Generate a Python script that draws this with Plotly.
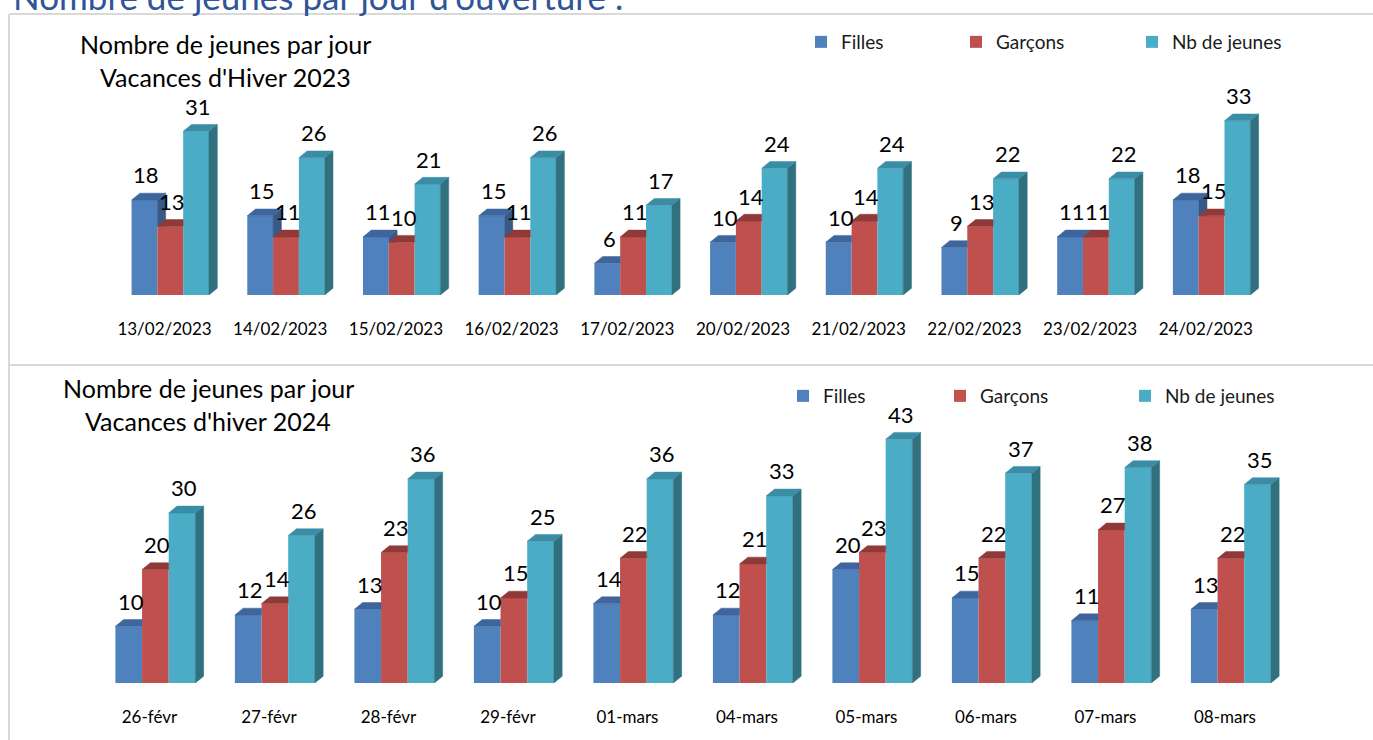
import plotly.graph_objects as go

# ---------------- data ----------------
cats_2023 = ["13/02/2023", "14/02/2023", "15/02/2023", "16/02/2023", "17/02/2023",
             "20/02/2023", "21/02/2023", "22/02/2023", "23/02/2023", "24/02/2023"]
filles_2023 = [18, 15, 11, 15, 6, 10, 10, 9, 11, 18]
garcons_2023 = [13, 11, 10, 11, 11, 14, 14, 13, 11, 15]
total_2023 = [31, 26, 21, 26, 17, 24, 24, 22, 22, 33]

cats_2024 = ["26-févr", "27-févr", "28-févr", "29-févr", "01-mars",
             "04-mars", "05-mars", "06-mars", "07-mars", "08-mars"]
filles_2024 = [10, 12, 13, 10, 14, 12, 20, 15, 11, 13]
garcons_2024 = [20, 14, 23, 15, 22, 21, 23, 22, 27, 22]
total_2024 = [30, 26, 36, 25, 36, 33, 43, 37, 38, 35]

series_names = ["Filles", "Garçons", "Nb de jeunes"]
title_2023 = ["Nombre de jeunes par jour", "Vacances d'Hiver 2023"]
title_2024 = ["Nombre de jeunes par jour", "Vacances d'hiver 2024"]
header = "Nombre de jeunes par jour d'ouverture :"

# ---------------- style ----------------
W_FIG, H_FIG = 1373, 740
FONT = "Lato"
front_col = ["#4F81BD", "#C0504D", "#4BACC6"]
top_col = ["#3E659C", "#8F3A38", "#3A8DA4"]
side_col = ["#365985", "#8A3432", "#31707F"]

BAR_W = 0.223      # bar width in category units
OFF = 0.05         # shift of bar group relative to the tick label
DEPTH_PX_X = 8.3
DEPTH_PX_Y = 6.8


def px2x(p):
    return p / W_FIG


def px2y(p):
    return 1 - p / H_FIG


panels = [
    dict(ax="x", ay="y", cats=cats_2023, vals=[filles_2023, garcons_2023, total_2023],
         label0=164.5, unit=115.7, base=295.0, scale=5.28, ytop=90.0,
         title=title_2023, title_x=225, title_y=[44, 77],
         legend_px=[(820, 42), (975, 42), (1151, 42)]),
    dict(ax="x2", ay="y2", cats=cats_2024, vals=[filles_2024, garcons_2024, total_2024],
         label0=149.4, unit=119.5, base=683.0, scale=5.67, ytop=420.0,
         title=title_2024, title_x=208, title_y=[388, 421],
         legend_px=[(802, 396), (959, 396), (1144, 396)]),
]

XL, XR = 20.0, 1360.0


def clip_above(poly, c):
    out = []
    n = len(poly)
    for j in range(n):
        p, q = poly[j], poly[(j + 1) % n]
        pin, qin = p[1] >= c, q[1] >= c
        if pin:
            out.append(p)
        if pin != qin:
            t = (c - p[1]) / (q[1] - p[1])
            out.append((p[0] + t * (q[0] - p[0]), c))
    return out


fig = go.Figure()
annotations = []
layout_axes = {}
legend_idx = 0

for pi, P in enumerate(panels):
    ax, ay = P["ax"], P["ay"]
    dx = DEPTH_PX_X / P["unit"]
    dy = DEPTH_PX_Y / P["scale"]
    n = len(P["cats"])
    centers = [[i + OFF + (k - 1) * BAR_W for i in range(n)] for k in range(3)]

    # front faces as bars
    for k in range(3):
        legend_idx += 1
        lname = "legend" if legend_idx == 1 else f"legend{legend_idx}"
        fig.add_trace(go.Bar(
            x=centers[k], y=P["vals"][k], width=BAR_W, name=series_names[k],
            marker=dict(color=front_col[k], line=dict(width=0)),
            xaxis=ax, yaxis=ay, legend=lname,
            hovertemplate="%{y}<extra>" + series_names[k] + "</extra>",
        ))
        lx, ly = P["legend_px"][k]
        layout_axes[lname] = dict(
            x=px2x(lx - 19), y=px2y(ly), xanchor="left", yanchor="middle",
            bgcolor="rgba(0,0,0,0)", borderwidth=0, itemwidth=30,
            font=dict(family=FONT, size=19, color="#1a1a1a"),
            itemclick=False, itemdoubleclick=False,
        )

    # side and top faces (3D look), computed from data
    for k in range(3):
        sx, sy, tx, ty = [], [], [], []
        for i in range(n):
            h = P["vals"][k][i]
            c = centers[k][i]
            xl, xr = c - BAR_W / 2, c + BAR_W / 2
            h_next = P["vals"][k + 1][i] if k < 2 else None
            side = [(xr, 0), (xr + dx, dy), (xr + dx, h + dy), (xr, h)]
            if h_next is not None:
                side = clip_above(side, h_next)
            if len(side) >= 3:
                for (a, b) in side:
                    sx.append(a); sy.append(b)
                sx.append(side[0][0]); sy.append(side[0][1])
                sx.append(None); sy.append(None)
            if h_next is not None and h_next > h + dy / 2:
                top = [(xl, h), (xr, h), (xr, h + dy), (xl + dx, h + dy)]
            else:
                top = [(xl, h), (xr, h), (xr + dx, h + dy), (xl + dx, h + dy)]
            for (a, b) in top:
                tx.append(a); ty.append(b)
            tx.append(top[0][0]); ty.append(top[0][1])
            tx.append(None); ty.append(None)
        fig.add_trace(go.Scatter(x=sx, y=sy, mode="lines", fill="toself",
                                 fillcolor=side_col[k], line=dict(width=0.5, color=side_col[k]),
                                 xaxis=ax, yaxis=ay, hoverinfo="skip", showlegend=False))
        fig.add_trace(go.Scatter(x=tx, y=ty, mode="lines", fill="toself",
                                 fillcolor=top_col[k], line=dict(width=0.5, color=top_col[k]),
                                 xaxis=ax, yaxis=ay, hoverinfo="skip", showlegend=False))

    # data labels
    for k in range(3):
        for i in range(n):
            annotations.append(dict(
                x=centers[k][i], y=P["vals"][k][i], xref=ax, yref=ay,
                text=str(P["vals"][k][i]), showarrow=False,
                yanchor="middle", yshift=25, xshift=2,
                font=dict(family=FONT, size=22, color="#000000"),
            ))

    # chart title (two lines)
    for line, ty_px in zip(P["title"], P["title_y"]):
        annotations.append(dict(
            x=px2x(P["title_x"]), y=px2y(ty_px), xref="paper", yref="paper",
            text=line, showarrow=False, xanchor="center", yanchor="middle",
            font=dict(family=FONT, size=25, color="#000000"),
        ))

    # axes
    xr0 = (XL - P["label0"]) / P["unit"]
    xr1 = (XR - P["label0"]) / P["unit"]
    xname = "xaxis" if ax == "x" else "xaxis2"
    yname = "yaxis" if ay == "y" else "yaxis2"
    layout_axes[xname] = dict(
        domain=[px2x(XL), px2x(XR)], range=[xr0, xr1],
        tickmode="array", tickvals=list(range(n)), ticktext=P["cats"],
        showgrid=False, zeroline=False, showline=False, ticks="",
        ticklabelstandoff=22, anchor=ay,
        tickfont=dict(family=FONT, size=17, color="#000000"), fixedrange=True,
    )
    layout_axes[yname] = dict(
        domain=[px2y(P["base"]), px2y(P["ytop"])],
        range=[0, (P["base"] - P["ytop"]) / P["scale"]],
        showgrid=False, zeroline=False, showline=False, showticklabels=False,
        ticks="", anchor=ax, fixedrange=True,
    )

# header (partly cut at the top of the picture)
annotations.append(dict(
    x=px2x(11), y=px2y(19), xref="paper", yref="paper", text=header,
    showarrow=False, xanchor="left", yanchor="bottom",
    font=dict(family=FONT, size=35, color="#2F5597"),
))

shapes = [
    dict(type="line", xref="paper", yref="paper", x0=px2x(9), x1=px2x(9),
         y0=px2y(14), y1=0, line=dict(color="#D9D9D9", width=2)),
    dict(type="line", xref="paper", yref="paper", x0=px2x(9), x1=1,
         y0=px2y(14), y1=px2y(14), line=dict(color="#D9D9D9", width=2)),
    dict(type="line", xref="paper", yref="paper", x0=px2x(9), x1=1,
         y0=px2y(365), y1=px2y(365), line=dict(color="#D9D9D9", width=2)),
]

fig.update_layout(
    width=W_FIG, height=H_FIG, autosize=False,
    margin=dict(l=0, r=0, t=0, b=0),
    paper_bgcolor="white", plot_bgcolor="rgba(0,0,0,0)",
    barmode="overlay", showlegend=True,
    annotations=annotations, shapes=shapes,
    font=dict(family=FONT),
    **layout_axes,
)

fig.write_html("out.html", config={"displayModeBar": False},
               post_script="document.body.style.margin='0px';")
